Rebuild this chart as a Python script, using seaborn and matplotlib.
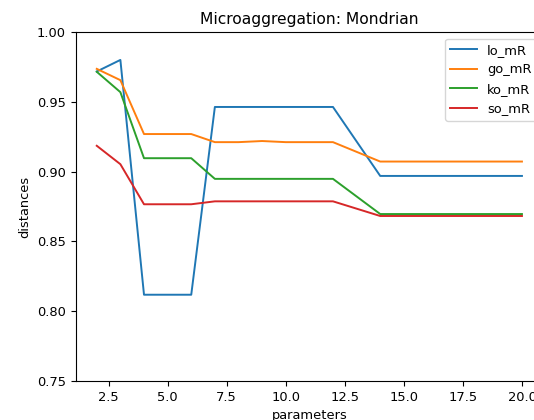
import matplotlib
matplotlib.use("Agg")
import matplotlib.pyplot as plt
import seaborn as sns
import pandas as pd

params = [2, 3, 4, 5, 6, 7, 8, 9, 10, 11, 12, 14, 16, 18, 20]
lo_mR = [0.9717, 0.980, 0.8118, 0.8118, 0.8118, 0.9463, 0.9463, 0.9463, 0.9463, 0.9463, 0.9463, 0.8969, 0.8969, 0.8969, 0.8969]
go_mR = [0.9736, 0.9655, 0.9269, 0.9269, 0.9269, 0.9211, 0.9211, 0.9219, 0.9211, 0.9211, 0.9211, 0.9072, 0.9072, 0.9072, 0.9072]
ko_mR = [0.9715, 0.9569, 0.9096, 0.9096, 0.9096, 0.8948, 0.8948, 0.8948, 0.8948, 0.8948, 0.8948, 0.8696, 0.8696, 0.8696, 0.8696]
so_mR = [0.9185, 0.9053, 0.8766, 0.8766, 0.8766, 0.8787, 0.8787, 0.8787, 0.8787, 0.8787, 0.8787, 0.8682, 0.8682, 0.8682, 0.8682]
series_names = ["lo_mR", "go_mR", "ko_mR", "so_mR"]
series_vals = [lo_mR, go_mR, ko_mR, so_mR]

rows = []
for name, vals in zip(series_names, series_vals):
    for x, v in zip(params, vals):
        rows.append({"parameters": x, "distances": v, "series": name})
df = pd.DataFrame(rows)

plt.rcParams["font.family"] = ["DejaVu Sans"]
plt.rcParams["font.size"] = 9.4

fig = plt.figure(figsize=(5.34, 4.2), dpi=100)
left, right, top, bottom = 75.5, 543.2, 32.0, 381.0
ax = fig.add_axes([left / 534, 1 - bottom / 420, (right - left) / 534, (bottom - top) / 420])

palette = sns.color_palette("tab10", 4)
for i, name in enumerate(series_names):
    sub = df[df["series"] == name]
    sns.lineplot(data=sub, x="parameters", y="distances", ax=ax,
                 color=palette[i], label=name, linewidth=1.4)

ax.set_ylim(0.75, 1.00)
ax.set_xlim(1.1, 20.9)
ax.set_yticks([0.75, 0.80, 0.85, 0.90, 0.95, 1.00])
ax.set_xticks([2.5, 5.0, 7.5, 10.0, 12.5, 15.0, 17.5, 20.0])
ax.set_title("Microaggregation: Mondrian", fontsize=11.2)
ax.set_xlabel("parameters", fontsize=9.4)
ax.set_ylabel("distances", fontsize=9.4)
ax.tick_params(labelsize=9.4)
ax.legend(loc="upper right", fontsize=9.4)

fig.savefig("out.png", dpi=100)
